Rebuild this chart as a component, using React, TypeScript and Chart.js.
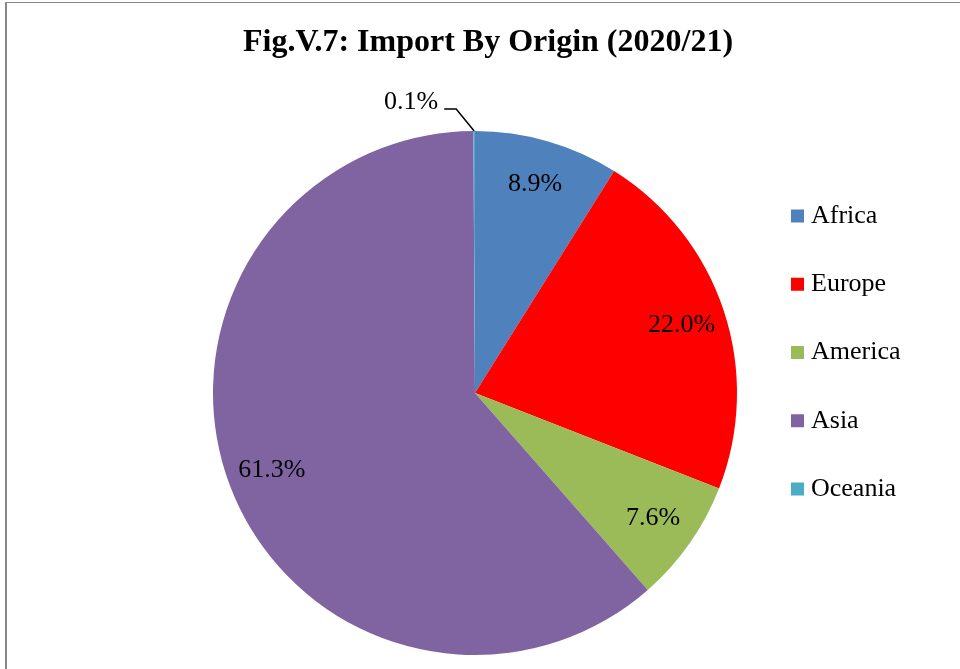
import React, { useEffect, useRef } from "react";
import { Chart, registerables } from "chart.js";

Chart.register(...registerables);

const TITLE = "Fig.V.7: Import By Origin (2020/21)";
const regions = ["Africa", "Europe", "America", "Asia", "Oceania"];
const shares = [8.9, 22.0, 7.6, 61.3, 0.1];
const colors = ["#4F81BD", "#FF0000", "#9BBB59", "#8064A2", "#4BACC6"];

const SERIF = '"Liberation Serif", "Times New Roman", Times, serif';
const LABEL_SIZE = 26;
const LEGEND_PAD = 42.25;

const framePlugin = {
  id: "frameAndTitle",
  beforeDraw(chart: any) {
    const ctx = chart.ctx;
    ctx.save();
    ctx.fillStyle = "#ffffff";
    ctx.fillRect(0, 0, chart.width, chart.height);
    ctx.fillStyle = "#878787";
    ctx.fillRect(5, 2, 2, chart.height - 2);
    ctx.fillRect(5, 2, chart.width - 5, 1);
    ctx.font = `bold 32px ${SERIF}`;
    ctx.fillStyle = "#000000";
    ctx.textAlign = "center";
    ctx.textBaseline = "alphabetic";
    ctx.fillText(TITLE, 488, 51);
    ctx.restore();
  },
};

const labelPlugin = {
  id: "sliceLabels",
  afterDatasetsDraw(chart: any) {
    const ctx = chart.ctx;
    const meta = chart.getDatasetMeta(0);
    const data = chart.data.datasets[0].data as number[];
    ctx.save();
    ctx.fillStyle = "#000000";
    ctx.strokeStyle = "#000000";
    ctx.font = `${LABEL_SIZE}px ${SERIF}`;
    meta.data.forEach((arc: any, i: number) => {
      const { x, y, startAngle, endAngle, outerRadius } = arc.getProps(
        ["x", "y", "startAngle", "endAngle", "outerRadius"],
        true
      );
      const mid = (startAngle + endAngle) / 2;
      const text = data[i].toFixed(1) + "%";
      if (data[i] < 1) {
        const px = x + Math.cos(mid) * outerRadius;
        const py = y + Math.sin(mid) * outerRadius;
        const ex = px - 18;
        const ey = py - 22;
        const tx = ex - 12;
        ctx.lineWidth = 1.5;
        ctx.beginPath();
        ctx.moveTo(px, py);
        ctx.lineTo(ex, ey);
        ctx.lineTo(tx, ey);
        ctx.stroke();
        ctx.textAlign = "right";
        ctx.textBaseline = "alphabetic";
        ctx.fillText(text, tx - 6, ey);
      } else {
        const r = outerRadius * 0.83;
        ctx.textAlign = "center";
        ctx.textBaseline = "middle";
        ctx.fillText(text, x + Math.cos(mid) * r, y + Math.sin(mid) * r);
      }
    });
    ctx.restore();
  },
};

export default function App() {
  const canvasRef = useRef<HTMLCanvasElement | null>(null);

  useEffect(() => {
    const canvas = canvasRef.current;
    if (!canvas) return;
    // measure legend text so the legend sits where intended
    const mctx = canvas.getContext("2d")!;
    mctx.font = `${LABEL_SIZE}px ${SERIF}`;
    const maxText = Math.max(...regions.map((r) => mctx.measureText(r).width));
    const legendW = LEGEND_PAD + 1 + LABEL_SIZE / 2 + maxText + 10;
    const legendLeft = 797 - LEGEND_PAD;
    const padRight = 960 - legendLeft - legendW;
    const padLeft = 2 * 475 - legendLeft;

    const chart = new Chart(canvas, {
      type: "pie",
      data: {
        labels: regions,
        datasets: [
          {
            data: shares,
            backgroundColor: colors,
            borderWidth: 0,
            clip: false,
          } as any,
        ],
      },
      options: {
        responsive: false,
        animation: false,
        events: [],
        radius: 262,
        layout: {
          padding: { left: padLeft, right: padRight, top: 160.75, bottom: 43.75 },
        },
        plugins: {
          title: { display: false },
          tooltip: { enabled: false },
          legend: {
            position: "right",
            align: "start",
            fullSize: false,
            labels: {
              usePointStyle: true,
              pointStyle: "rect",
              boxWidth: 1,
              boxHeight: 13,
              padding: LEGEND_PAD,
              color: "#000000",
              font: { family: SERIF, size: LABEL_SIZE },
            },
          },
        },
      } as any,
      plugins: [framePlugin, labelPlugin],
    });
    return () => chart.destroy();
  }, []);

  return (
    <div style={{ position: "fixed", left: 0, top: 0, width: 960, height: 669, background: "#fff" }}>
      <canvas ref={canvasRef} width={960} height={669} style={{ display: "block", width: 960, height: 669 }} />
    </div>
  );
}
